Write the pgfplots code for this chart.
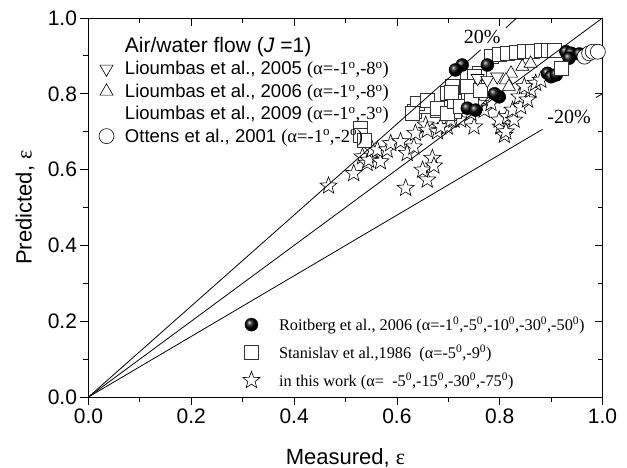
\documentclass[border=0pt]{standalone}
\usepackage{fontspec}
\setmainfont{Liberation Sans}
\newfontfamily\tnr{Liberation Serif}
\usepackage{pgfplots}
\pgfplotsset{compat=1.18}

\pgfdeclareplotmark{ostar}{%
 \pgfpathmoveto{\pgfpointpolar{90}{\pgfplotmarksize}}%
 \pgfpathlineto{\pgfpointpolar{126}{0.42\pgfplotmarksize}}%
 \pgfpathlineto{\pgfpointpolar{162}{\pgfplotmarksize}}%
 \pgfpathlineto{\pgfpointpolar{198}{0.42\pgfplotmarksize}}%
 \pgfpathlineto{\pgfpointpolar{234}{\pgfplotmarksize}}%
 \pgfpathlineto{\pgfpointpolar{270}{0.42\pgfplotmarksize}}%
 \pgfpathlineto{\pgfpointpolar{306}{\pgfplotmarksize}}%
 \pgfpathlineto{\pgfpointpolar{342}{0.42\pgfplotmarksize}}%
 \pgfpathlineto{\pgfpointpolar{18}{\pgfplotmarksize}}%
 \pgfpathlineto{\pgfpointpolar{54}{0.42\pgfplotmarksize}}%
 \pgfpathclose
 \pgfusepathqfillstroke
}

\pgfplotsset{
 common/.style={
  width=514pt, height=379pt, scale only axis,
  xmin=0, xmax=1, ymin=0, ymax=1,
  xtick={0,0.2,0.4,0.6,0.8,1.0}, ytick={0,0.2,0.4,0.6,0.8,1.0},
  minor x tick num=1, minor y tick num=1,
  major tick length=8pt, minor tick length=5pt,
  tick style={black, line width=0.8pt},
  axis line style={line width=0.9pt},
  clip=false,
 }
}

\begin{document}
\begin{tikzpicture}
\begin{axis}[common, at={(0,0)}, anchor=south west,
  tick align=outside, xtick pos=left, ytick pos=left,
  /pgf/number format/assume math mode=true,
  ticklabel style={font=\fontsize{21}{24}\selectfont},
  xticklabel style={/pgf/number format/.cd, fixed, fixed zerofill, precision=1},
  yticklabel style={/pgf/number format/.cd, fixed, fixed zerofill, precision=1},
  xlabel={Measured, {\tnr ε}}, ylabel={Predicted, {\tnr ε}},
  label style={font=\fontsize{22}{26}\selectfont},
  xlabel style={at={(axis description cs:0.5,-0.16)}, anchor=center},
  ylabel style={at={(axis description cs:-0.1235,0.5)}, anchor=center},
  legend cell align=left, reverse legend,
  legend style={draw=none, fill=none, at={(axis cs:0.30,0.217)}, anchor=north west,
    font=\tnr\fontsize{16.3}{19}\selectfont, row sep=8.5pt, inner sep=0pt,
    /tikz/every odd column/.append style={column sep=17pt}},
]
% in this work
\addplot[only marks, mark=ostar, mark size=9pt, mark options={draw=black, fill=white, line width=0.6pt}] coordinates {
(0.467,0.557) (0.516,0.590) (0.533,0.634) (0.542,0.617) (0.545,0.625) (0.552,0.652)
(0.568,0.621) (0.562,0.652) (0.581,0.652) (0.588,0.669) (0.607,0.674) (0.620,0.643)
(0.633,0.660) (0.617,0.551) (0.659,0.573) (0.650,0.599) (0.669,0.630) (0.672,0.610)
(0.636,0.696) (0.656,0.718) (0.659,0.704) (0.679,0.700) (0.698,0.713) (0.711,0.731)
(0.685,0.713) (0.724,0.731) (0.750,0.713) (0.744,0.749) (0.770,0.757) (0.783,0.775)
(0.766,0.788) (0.757,0.775) (0.802,0.713) (0.809,0.691) (0.799,0.731) (0.815,0.740)
(0.828,0.731) (0.825,0.757) (0.841,0.766) (0.838,0.792) (0.854,0.784) (0.861,0.810)
(0.870,0.828) (0.880,0.836) (0.848,0.819) (0.812,0.700) (0.705,0.731)
};
\addlegendentry{in this work (α=~~-5\textsuperscript{0},-15\textsuperscript{0},-30\textsuperscript{0},-75\textsuperscript{0})}
% Stanislav
\addplot[only marks, mark=square*, mark size=7pt, mark options={draw=black!80, fill=white, line width=0.6pt}] coordinates {
(0.529,0.709) (0.529,0.691) (0.536,0.678)
(0.633,0.753) (0.653,0.766) (0.679,0.757) (0.698,0.770) (0.711,0.753)
(0.640,0.775) (0.659,0.784) (0.630,0.749) (0.679,0.762) (0.698,0.749) (0.698,0.801)
(0.708,0.819) (0.711,0.779) (0.724,0.766) (0.737,0.845) (0.750,0.828) (0.744,0.792)
(0.760,0.854) (0.750,0.845) (0.737,0.819) (0.705,0.805) (0.763,0.810)
(0.783,0.898) (0.800,0.903) (0.815,0.907) (0.832,0.909) (0.848,0.911) (0.864,0.913)
(0.880,0.916) (0.895,0.916) (0.906,0.916)
};
\addlegendentry{Stanislav et al.,1986~~(α=-5\textsuperscript{0},-9\textsuperscript{0})}
% Roitberg
\addplot[only marks, mark=ball, mark size=6.5pt, mark options={ball color=black}] coordinates {
(0.727,0.876) (0.714,0.863) (0.737,0.762) (0.753,0.757) (0.776,0.876) (0.799,0.792)
(0.790,0.800) (0.893,0.854) (0.900,0.845) (0.910,0.850) (0.929,0.911) (0.939,0.907)
(0.935,0.894) (0.955,0.905)
};
\addlegendentry{Roitberg et al., 2006 (α=-1\textsuperscript{0},-5\textsuperscript{0},-10\textsuperscript{0},-30\textsuperscript{0},-50\textsuperscript{0})}
\addplot[only marks, mark=square*, mark size=7pt, mark options={draw=black!80, fill=white, line width=0.6pt}, forget plot] coordinates {(0.919,0.867)};
\end{axis}

\begin{axis}[common, at={(0,0)}, anchor=south west,
  tick align=inside, xtick pos=right, ytick pos=right,
  xticklabels={}, yticklabels={},
  legend cell align=left,
  legend style={draw=none, fill=none, at={(axis cs:0.018,0.955)}, anchor=north west,
    font=\fontsize{18.5}{21}\selectfont, row sep=3.5pt, inner sep=0pt,
    /tikz/every odd column/.append style={column sep=9pt}},
]
\addlegendimage{empty legend}
\addlegendentry{\fontsize{21}{25}\selectfont Air/water flow (\textit{J} =1)\rule[-9pt]{0pt}{9pt}}
\addplot[only marks, mark=triangle*, mark size=7.5pt, mark options={rotate=180, draw=black, fill=white, line width=0.6pt}] coordinates {
(0.757,0.841) (0.776,0.836) (0.795,0.845)
};
\addlegendentry{Lioumbas et al., 2005 {\tnr(α=-1\textsuperscript{o},-8\textsuperscript{o})}}
\addplot[only marks, mark=triangle*, mark size=7.5pt, mark options={draw=black, fill=white, line width=0.6pt}] coordinates {
(0.844,0.872) (0.822,0.854) (0.812,0.836) (0.818,0.819) (0.860,0.880)
};
\addlegendentry{Lioumbas et al., 2006 {\tnr(α=-1\textsuperscript{o},-8\textsuperscript{o})}}
\addlegendimage{empty legend}
\addlegendentry{Lioumbas et al., 2009 {\tnr(α=-1\textsuperscript{o},-3\textsuperscript{o})}}
\addplot[only marks, mark=*, mark size=7.5pt, mark options={draw=black, fill=white, line width=0.6pt}] coordinates {
(0.965,0.898) (0.974,0.907) (0.981,0.911) (0.991,0.911)
};
\addlegendentry{Ottens et al., 2001 {\tnr(α=-1\textsuperscript{o},-2\textsuperscript{o})}}
% reference lines
\addplot[black, line width=0.8pt, forget plot] coordinates {(0,0) (1,1)};
\addplot[black, line width=0.8pt, forget plot] coordinates {(0,0) (0.763,0.916)};
\addplot[black, line width=0.8pt, forget plot] coordinates {(0.812,0.974) (0.833,1)};
\addplot[black, line width=0.8pt, forget plot] coordinates {(0,0) (0.883,0.706)};
\addplot[black, line width=0.8pt, forget plot] coordinates {(0.987,0.790) (1,0.8)};
\node[font=\tnr\fontsize{20}{24}\selectfont] at (axis cs:0.766,0.951) {20\%};
\node[font=\tnr\fontsize{20}{24}\selectfont] at (axis cs:0.935,0.740) {-20\%};
\end{axis}
\pgfresetboundingbox
\path[use as bounding box] (-88.5pt,-71pt) rectangle (538.5pt,397pt);
\end{tikzpicture}
\end{document}
